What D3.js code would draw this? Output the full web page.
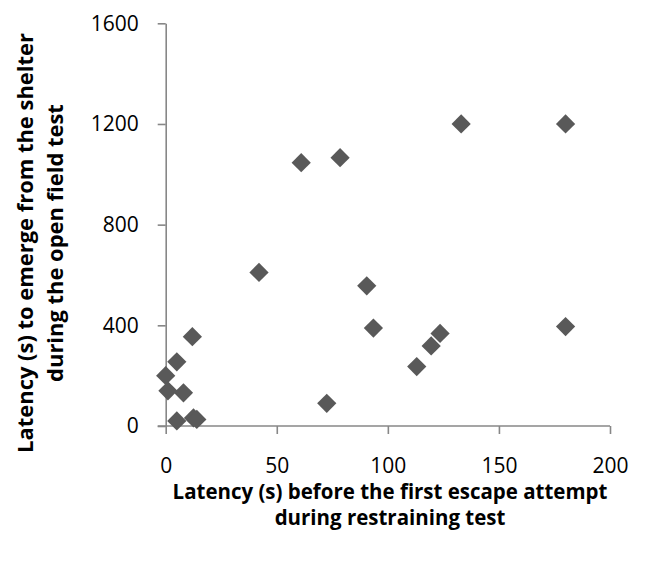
<!DOCTYPE html>
<html>
<head>
<meta charset="utf-8">
<script src="https://cdn.jsdelivr.net/npm/d3@7"></script>
<style>
  body { margin: 0; background: #fff; }
  text { font-family: "Open Sans", sans-serif; fill: #000; }
</style>
</head>
<body>
<script>
// latency (s) before the first escape attempt (restraining test)
const escapeLatency = [0, 1, 5, 5, 8, 12, 12.5, 14, 42, 61, 72.5, 78.5, 90.5, 93.5, 113, 119.5, 123.5, 133, 180, 180];
// latency (s) to emerge from the shelter (open field test)
const emergeLatency = [200, 140, 255, 20, 132, 355, 32, 26, 610, 1046, 90, 1066, 557, 389, 236, 318, 368, 1200, 1200, 395];

const xTicks = [0, 50, 100, 150, 200];
const yTicks = [0, 400, 800, 1200, 1600];

const xTitle = ['Latency (s) before the first escape attempt', 'during restraining test'];
const yTitle = ['Latency (s) to emerge from the shelter', 'during the open field test'];

let dim = { width: 649, height: 567 };
let svg = d3.select('body').append('svg').attr('width', dim.width).attr('height', dim.height);

let scaleX = d3.scaleLinear([0, 200], [165.7, 610]);
let scaleY = d3.scaleLinear([0, 1600], [426, 23.3]);

let axisColor = '#878787';

let gx = svg
  .append('g')
  .attr('transform', `translate(0,${scaleY(0)})`)
  .call(d3.axisBottom(scaleX).tickValues(xTicks).tickFormat(d3.format('d')).tickSize(8).tickSizeOuter(0).tickPadding(24));

let gy = svg
  .append('g')
  .attr('transform', `translate(${scaleX(0)},0)`)
  .call(d3.axisLeft(scaleY).tickValues(yTicks).tickFormat(d3.format('d')).tickSize(8).tickSizeOuter(0).tickPadding(19));

// excel style: the x axis runs a bit left of the y axis
gx.select('.domain').attr('d', `M${scaleX(0) - 8},0H${scaleX(200)}`);

[gx, gy].forEach((g) => {
  g.selectAll('.domain, line').attr('stroke', axisColor).attr('stroke-width', 1.6);
  g.selectAll('text').attr('font-size', 21).attr('font-family', '"Open Sans", sans-serif').attr('fill', '#000');
});

// markers
let diamond = d3.symbol(d3.symbolSquare, 185);
svg
  .append('g')
  .selectAll('path')
  .data(escapeLatency.map((d, i) => [d, emergeLatency[i]]))
  .enter()
  .append('path')
  .attr('d', diamond)
  .attr('fill', '#595959')
  .attr('transform', (d) => `translate(${scaleX(d[0])},${scaleY(d[1])}) rotate(45)`);

// fit a bold title so that its first line gets a target width
function fitSize(lines, target) {
  let t = svg.append('text').attr('font-weight', 'bold').attr('font-size', 20).text(lines[0]);
  let w = t.node().getComputedTextLength();
  t.remove();
  return (20 * target) / w;
}

let xs = fitSize(xTitle, 435);
svg
  .append('g')
  .selectAll('text')
  .data(xTitle)
  .enter()
  .append('text')
  .attr('x', 390)
  .attr('y', (d, i) => 499 + i * 26)
  .attr('text-anchor', 'middle')
  .attr('font-weight', 'bold')
  .attr('font-size', xs)
  .text((d) => d);

let ys = fitSize(yTitle, 420);
svg
  .append('g')
  .attr('transform', 'translate(0,243) rotate(-90)')
  .selectAll('text')
  .data(yTitle)
  .enter()
  .append('text')
  .attr('x', 0)
  .attr('y', (d, i) => 33 + i * 30)
  .attr('text-anchor', 'middle')
  .attr('font-weight', 'bold')
  .attr('font-size', ys)
  .text((d) => d);
</script>
</body>
</html>
